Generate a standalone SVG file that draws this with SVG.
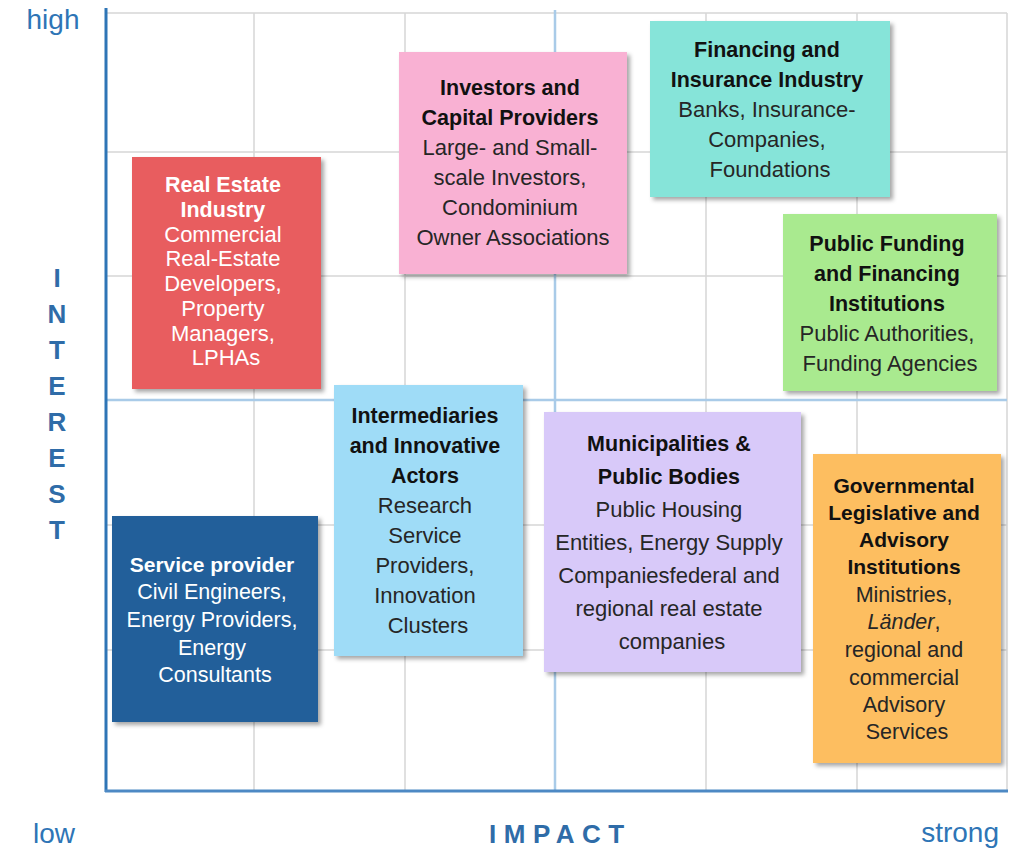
<svg xmlns="http://www.w3.org/2000/svg" width="1011" height="848" viewBox="0 0 1011 848">
  <defs>
    <filter id="shadow" x="-10%" y="-10%" width="125%" height="125%">
      <feDropShadow dx="3" dy="3" stdDeviation="2" flood-color="#000" flood-opacity="0.35"/>
    </filter>
    <style>
      .grid { stroke: #d6d6d6; stroke-width: 1.5; fill: none; }
      .mid { stroke: #a9cbe8; stroke-width: 2.5; fill: none; }
      .axis { stroke: #2e75b6; stroke-width: 3; fill: none; }
      .axis-b { stroke: #4d89c4; stroke-width: 3; fill: none; }
      .box { filter: url(#shadow); }
      .t { font-family: "Liberation Sans", Arial, sans-serif; font-size: 22px; text-anchor: middle; fill: #262626; }
      .t .h { font-weight: bold; fill: #111; font-size: 21.5px; }
      .w { fill: #ffffff; }
      .w .h { fill: #ffffff; }
      .s20 { font-size: 21.5px; }
      .s20 .h { font-size: 21px; }
      .scale { font-family: "Liberation Sans", Arial, sans-serif; font-size: 28px; fill: #2e75b6; }
      .axlabel { font-family: "Liberation Sans", Arial, sans-serif; font-size: 26px; font-weight: bold; fill: #2f6ca8; }
    </style>
  </defs>

  <rect width="1011" height="848" fill="#ffffff"/>

  <!-- grid -->
  <g id="grid">
    <path class="grid" d="M106 13H1007 M106 152H1007 M106 276H1007 M106 525H1007 M106 650H1007"/>
    <path class="grid" d="M254 13V791 M405 13V791 M706 13V791 M857 13V791 M1007 13V791"/>
    <path class="mid" d="M555 10V791 M106 400H1007"/>
    <path class="axis" d="M106 8V792"/>
    <path class="axis-b" d="M105 791H1008"/>
  </g>

  <!-- axis labels -->
  <g id="axis-labels">
    <text class="scale" x="53" y="29" text-anchor="middle">high</text>
    <text class="scale" x="54" y="843" text-anchor="middle">low</text>
    <text class="scale" x="999" y="842" text-anchor="end">strong</text>
    <text class="axlabel" x="489" y="843" letter-spacing="7.5">IMPACT</text>
    <g class="axlabel" text-anchor="middle">
      <text x="57" y="287">I</text>
      <text x="57" y="323">N</text>
      <text x="57" y="359">T</text>
      <text x="57" y="395">E</text>
      <text x="57" y="431">R</text>
      <text x="57" y="467">E</text>
      <text x="57" y="503">S</text>
      <text x="57" y="539">T</text>
    </g>
  </g>

  <!-- stakeholder nodes -->
  <g id="real-estate-industry">
    <rect class="box" x="132" y="157" width="189" height="232" fill="#e85d5f"/>
    <text class="t w">
      <tspan class="h" x="226" y="192">Real Estate</tspan>
      <tspan class="h" x="226" y="217">Industry</tspan>
      <tspan x="226" y="242">Commercial</tspan>
      <tspan x="226" y="266">Real-Estate</tspan>
      <tspan x="226" y="291">Developers,</tspan>
      <tspan x="226" y="316">Property</tspan>
      <tspan x="226" y="341">Managers,</tspan>
      <tspan x="226" y="365">LPHAs</tspan>
    </text>
  </g>

  <g id="investors">
    <rect class="box" x="399" y="52" width="228" height="222" fill="#f9b1d3"/>
    <text class="t">
      <tspan class="h" x="513" y="95">Investors and</tspan>
      <tspan class="h" x="513" y="125">Capital Providers</tspan>
      <tspan x="513" y="155">Large- and Small-</tspan>
      <tspan x="513" y="185">scale Investors,</tspan>
      <tspan x="513" y="215">Condominium</tspan>
      <tspan x="513" y="245">Owner Associations</tspan>
    </text>
  </g>

  <g id="financing-insurance">
    <rect class="box" x="650" y="21" width="240" height="176" fill="#86e4d9"/>
    <text class="t">
      <tspan class="h" x="770" y="57">Financing and</tspan>
      <tspan class="h" x="770" y="87">Insurance Industry</tspan>
      <tspan x="770" y="117">Banks, Insurance-</tspan>
      <tspan x="770" y="147">Companies,</tspan>
      <tspan x="770" y="177">Foundations</tspan>
    </text>
  </g>

  <g id="public-funding">
    <rect class="box" x="783" y="214" width="214" height="177" fill="#a9ea8f"/>
    <text class="t">
      <tspan class="h" x="890" y="251">Public Funding</tspan>
      <tspan class="h" x="890" y="281">and Financing</tspan>
      <tspan class="h" x="890" y="311">Institutions</tspan>
      <tspan x="890" y="341">Public Authorities,</tspan>
      <tspan x="890" y="371">Funding Agencies</tspan>
    </text>
  </g>

  <g id="intermediaries">
    <rect class="box" x="334" y="385" width="189" height="271" fill="#9fdcf7"/>
    <text class="t">
      <tspan class="h" x="428" y="423">Intermediaries</tspan>
      <tspan class="h" x="428" y="453">and Innovative</tspan>
      <tspan class="h" x="428" y="483">Actors</tspan>
      <tspan x="428" y="513">Research</tspan>
      <tspan x="428" y="543">Service</tspan>
      <tspan x="428" y="573">Providers,</tspan>
      <tspan x="428" y="603">Innovation</tspan>
      <tspan x="428" y="633">Clusters</tspan>
    </text>
  </g>

  <g id="municipalities">
    <rect class="box" x="544" y="412" width="257" height="260" fill="#d8c9f9"/>
    <text class="t">
      <tspan class="h" x="672" y="451">Municipalities &amp;</tspan>
      <tspan class="h" x="672" y="484">Public Bodies</tspan>
      <tspan x="672" y="517">Public Housing</tspan>
      <tspan x="672" y="550">Entities, Energy Supply</tspan>
      <tspan x="672" y="583">Companiesfederal and</tspan>
      <tspan x="672" y="616">regional real estate</tspan>
      <tspan x="672" y="649">companies</tspan>
    </text>
  </g>

  <g id="governmental">
    <rect class="box" x="813" y="454" width="188" height="309" fill="#fdbe60"/>
    <text class="t s20">
      <tspan class="h" x="907" y="493">Governmental</tspan>
      <tspan class="h" x="907" y="520">Legislative and</tspan>
      <tspan class="h" x="907" y="547">Advisory</tspan>
      <tspan class="h" x="907" y="574">Institutions</tspan>
      <tspan x="907" y="602">Ministries,</tspan>
      <tspan x="907" y="629"><tspan font-style="italic">Länder</tspan>,</tspan>
      <tspan x="907" y="657">regional and</tspan>
      <tspan x="907" y="685">commercial</tspan>
      <tspan x="907" y="712">Advisory</tspan>
      <tspan x="907" y="739">Services</tspan>
    </text>
  </g>

  <g id="service-provider">
    <rect class="box" x="112" y="516" width="206" height="206" fill="#215f9a"/>
    <text class="t w s20">
      <tspan class="h" x="215" y="572">Service provider</tspan>
      <tspan x="215" y="599">Civil Engineers,</tspan>
      <tspan x="215" y="627">Energy Providers,</tspan>
      <tspan x="215" y="655">Energy</tspan>
      <tspan x="215" y="682">Consultants</tspan>
    </text>
  </g>

  <!-- no connectors in this chart -->
  <g id="connectors"/>
</svg>
